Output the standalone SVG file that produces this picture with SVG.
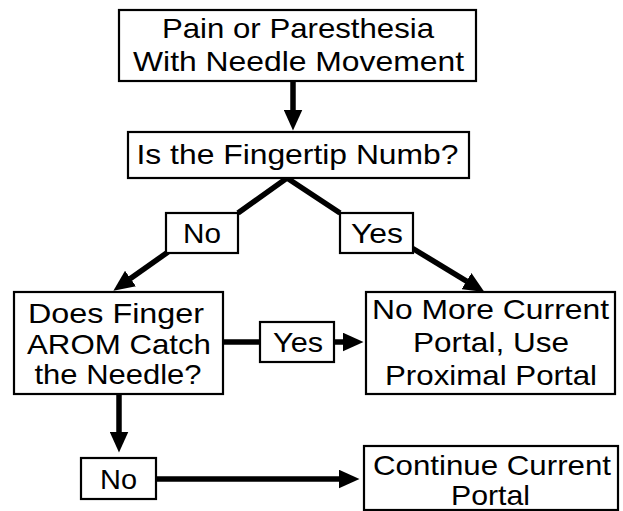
<svg xmlns="http://www.w3.org/2000/svg" width="623" height="511" viewBox="0 0 623 511">
<style>
.box{fill:#fff;stroke:#000;stroke-width:2.2}
.t{font-family:"Liberation Sans",Arial,sans-serif;font-size:28px;fill:#000;text-anchor:middle}
.c{fill:none;stroke:#000;stroke-width:5.5}
</style>
<defs>
<marker id="arr" viewBox="0 0 21 19" refX="0.5" refY="9.5" markerWidth="21" markerHeight="19" markerUnits="userSpaceOnUse" orient="auto">
<path d="M0,0 L21,9.5 L0,19 z" fill="#000"/>
</marker>
</defs>
<rect width="623" height="511" fill="#fff"/>
<g id="connectors">
<line class="c" x1="293" y1="81" x2="293" y2="110" marker-end="url(#arr)"/>
<polyline class="c" points="238,213 287,178 340,213"/>
<line class="c" x1="168" y1="252" x2="130.1" y2="278.8" marker-end="url(#arr)"/>
<line class="c" x1="412" y1="248" x2="466.9" y2="281.4" marker-end="url(#arr)"/>
<line class="c" x1="223" y1="342" x2="260" y2="342"/>
<line class="c" x1="334" y1="342" x2="343" y2="342" marker-end="url(#arr)"/>
<line class="c" x1="119" y1="394" x2="119" y2="432" marker-end="url(#arr)"/>
<line class="c" x1="156" y1="479" x2="339" y2="479" marker-end="url(#arr)"/>
</g>
<g id="start">
<rect class="box" x="119" y="10" width="357" height="71"/>
<text class="t" x="298" y="38" textLength="272" lengthAdjust="spacingAndGlyphs">Pain or Paresthesia</text>
<text class="t" x="298.5" y="71" textLength="331" lengthAdjust="spacingAndGlyphs">With Needle Movement</text>
</g>
<g id="numb">
<rect class="box" x="128" y="132" width="341" height="46"/>
<text class="t" x="297.5" y="164" textLength="322" lengthAdjust="spacingAndGlyphs">Is the Fingertip Numb?</text>
</g>
<g id="no1">
<rect class="box" x="166" y="213" width="72" height="40"/>
<text class="t" x="202" y="243" textLength="38" lengthAdjust="spacingAndGlyphs">No</text>
</g>
<g id="yes1">
<rect class="box" x="340" y="213" width="73" height="40"/>
<text class="t" x="377" y="243" textLength="52" lengthAdjust="spacingAndGlyphs">Yes</text>
</g>
<g id="arom">
<rect class="box" x="14" y="292" width="209" height="102"/>
<text class="t" x="116" y="323" textLength="176" lengthAdjust="spacingAndGlyphs">Does Finger</text>
<text class="t" x="119" y="354" textLength="184" lengthAdjust="spacingAndGlyphs">AROM Catch</text>
<text class="t" x="118" y="384" textLength="167" lengthAdjust="spacingAndGlyphs">the Needle?</text>
</g>
<g id="yes2">
<rect class="box" x="260" y="322" width="74" height="40"/>
<text class="t" x="298" y="352" textLength="50" lengthAdjust="spacingAndGlyphs">Yes</text>
</g>
<g id="proximal">
<rect class="box" x="366" y="292" width="249" height="102"/>
<text class="t" x="490.5" y="319" textLength="237" lengthAdjust="spacingAndGlyphs">No More Current</text>
<text class="t" x="491" y="352" textLength="156" lengthAdjust="spacingAndGlyphs">Portal, Use</text>
<text class="t" x="491" y="385" textLength="212" lengthAdjust="spacingAndGlyphs">Proximal Portal</text>
</g>
<g id="no2">
<rect class="box" x="81" y="458" width="75" height="41"/>
<text class="t" x="118.5" y="489" textLength="37" lengthAdjust="spacingAndGlyphs">No</text>
</g>
<g id="continue">
<rect class="box" x="364" y="446" width="254" height="64"/>
<text class="t" x="492" y="475" textLength="238" lengthAdjust="spacingAndGlyphs">Continue Current</text>
<text class="t" x="490.5" y="505" textLength="79" lengthAdjust="spacingAndGlyphs">Portal</text>
</g>
</svg>
